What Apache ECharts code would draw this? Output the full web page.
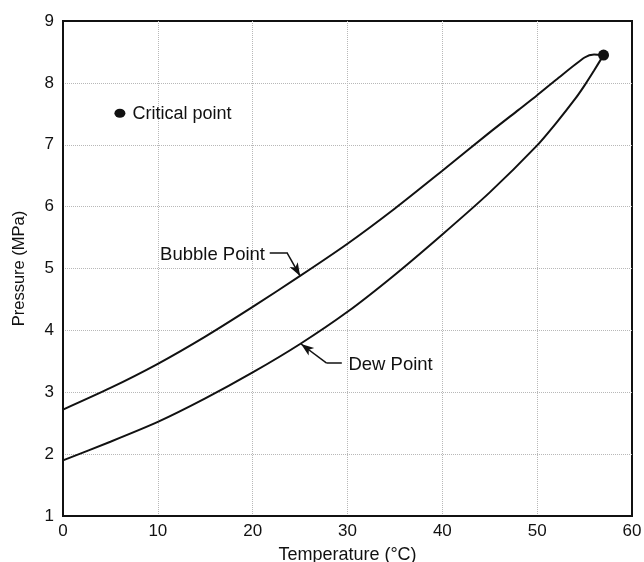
<!DOCTYPE html>
<html>
<head>
<meta charset="utf-8">
<script src="https://cdn.jsdelivr.net/npm/echarts@6/dist/echarts.min.js"></script>
<style>
  html, body { margin: 0; padding: 0; background: #fff; }
  #chart { width: 644px; height: 562px; }
</style>
</head>
<body>
<div id="chart"></div>
<script>
// Phase envelope: temperature (°C) vs pressure (MPa)
var bubbleCurve = [
  [0, 2.72], [5, 3.07], [10, 3.46], [15, 3.90], [20, 4.38], [25, 4.88],
  [30, 5.40], [35, 5.97], [40, 6.58], [45, 7.20], [48, 7.56], [50, 7.80],
  [52, 8.05], [55, 8.41], [56, 8.46], [57, 8.45]
];
var dewCurve = [
  [0, 1.90], [5, 2.20], [10, 2.52], [15, 2.90], [20, 3.32], [25, 3.78],
  [30, 4.30], [35, 4.90], [40, 5.55], [45, 6.23], [50, 6.99], [52, 7.35],
  [54, 7.74], [55, 7.96], [56, 8.20], [57, 8.45]
];
var criticalPoint = [57, 8.45];
var keyMarker = [6, 7.51];
var keyText = 'Critical point';
var bubbleLabel = { text: 'Bubble Point', at: [21.3, 5.25], leader: [[21.8, 5.26], [23.6, 5.26], [25.0, 4.88]] };
var dewLabel = { text: 'Dew Point', at: [30.1, 3.47], leader: [[29.4, 3.47], [27.8, 3.47], [25.1, 3.78]] };
var xTicks = { min: 0, max: 60, step: 10 };
var yTicks = { min: 1, max: 9, step: 1 };

var FONT = 'Liberation Sans, Arial, sans-serif';
var INK = '#111';
var GRID_LINE = { show: true, showMinLine: false, showMaxLine: false, lineStyle: { color: '#b8b8b8', type: 'dotted', width: 1 } };

function leaderLines(leader) {
  return [
    [{ coord: leader[0], symbol: 'none' }, { coord: leader[1], symbol: 'none' }],
    [{ coord: leader[1], symbol: 'none' }, { coord: leader[2], symbol: 'arrow', symbolSize: [7, 13] }]
  ];
}

function textMark(name, item, position) {
  return {
    name: name,
    type: 'scatter',
    symbolSize: 0,
    silent: true,
    data: [item.at],
    itemStyle: { opacity: 1 },
    label: {
      show: true, position: position, distance: 0, offset: [0, 2],
      formatter: item.text, color: INK, fontFamily: FONT, fontSize: 18.5
    },
    markLine: {
      silent: true,
      animation: false,
      label: { show: false },
      lineStyle: { color: INK, width: 1.5, type: 'solid', opacity: 1 },
      itemStyle: { color: INK, opacity: 1 },
      data: leaderLines(item.leader)
    }
  };
}

var chart = echarts.init(document.getElementById('chart'), null, { renderer: 'canvas' });
chart.setOption({
  animation: false,
  backgroundColor: '#fff',
  grid: {
    left: 63, right: 12, top: 21, bottom: 46,
    show: true, borderColor: INK, borderWidth: 2,
    containLabel: false, outerBoundsMode: 'none'
  },
  xAxis: {
    type: 'value', min: xTicks.min, max: xTicks.max, interval: xTicks.step,
    name: 'Temperature (°C)', nameLocation: 'middle', nameGap: 30,
    nameTextStyle: { color: INK, fontFamily: FONT, fontSize: 18 },
    axisLine: { lineStyle: { color: INK, width: 2 } },
    axisTick: { show: false },
    axisLabel: { color: INK, fontFamily: FONT, fontSize: 17, margin: 7 },
    splitLine: GRID_LINE
  },
  yAxis: {
    type: 'value', min: yTicks.min, max: yTicks.max, interval: yTicks.step,
    name: 'Pressure (MPa)', nameLocation: 'middle', nameGap: 35,
    nameTextStyle: { color: INK, fontFamily: FONT, fontSize: 16.5 },
    axisLine: { lineStyle: { color: INK, width: 2 } },
    axisTick: { show: false },
    axisLabel: { color: INK, fontFamily: FONT, fontSize: 17, margin: 9 },
    splitLine: GRID_LINE
  },
  series: [
    {
      name: 'Bubble Point', type: 'line', data: bubbleCurve, smooth: 0.25,
      showSymbol: false, lineStyle: { color: INK, width: 2 }
    },
    {
      name: 'Dew Point', type: 'line', data: dewCurve, smooth: 0.25,
      showSymbol: false, lineStyle: { color: INK, width: 2 }
    },
    {
      name: 'Critical point', type: 'scatter', data: [criticalPoint],
      symbol: 'circle', symbolSize: 11, itemStyle: { color: INK, opacity: 1 }
    },
    {
      name: 'Key', type: 'scatter', data: [keyMarker],
      symbol: 'circle', symbolSize: [11, 9], itemStyle: { color: INK, opacity: 1 },
      label: { show: true, position: 'right', distance: 7, offset: [0, 1], formatter: keyText, color: INK, fontFamily: FONT, fontSize: 18 }
    },
    textMark('bubbleLabel', bubbleLabel, 'left'),
    textMark('dewLabel', dewLabel, 'right')
  ]
});
</script>
</body>
</html>
